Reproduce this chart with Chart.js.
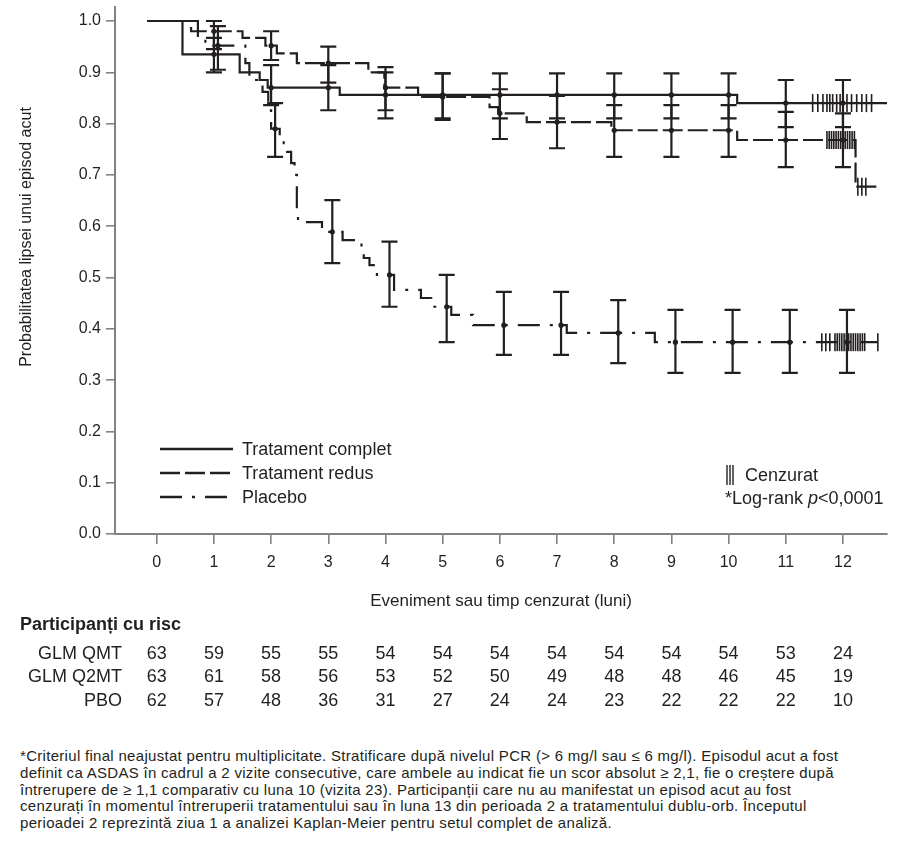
<!DOCTYPE html>
<html>
<head>
<meta charset="utf-8">
<script src="https://cdn.jsdelivr.net/npm/chart.js@4.4.1/dist/chart.umd.min.js"></script>
<style>
    body { margin: 0; background: #fff; font-family: "Liberation Sans", Arial, sans-serif; color: #231f20; }
    #zona { position: relative; width: 899px; height: 720px; }
    #nota { position: absolute; left: 20px; top: 748px; font-size: 15px; line-height: 16.8px; letter-spacing: 0.3px; white-space: nowrap; color: #231f20; }
</style>
</head>
<body>
<div id="zona"><canvas id="grafico_km" width="899" height="720"></canvas></div>
<div id="nota">
*Criteriul final neajustat pentru multiplicitate. Stratificare după nivelul PCR (&gt; 6 mg/l sau ≤ 6 mg/l). Episodul acut a fost<br>
definit ca ASDAS în cadrul a 2 vizite consecutive, care ambele au indicat fie un scor absolut ≥ 2,1, fie o creștere după<br>
întrerupere de ≥ 1,1 comparativ cu luna 10 (vizita 23). Participanții care nu au manifestat un episod acut au fost<br>
cenzurați în momentul întreruperii tratamentului sau în luna 13 din perioada 2 a tratamentului dublu-orb. Începutul<br>
perioadei 2 reprezintă ziua 1 a analizei Kaplan-Meier pentru setul complet de analiză.
</div>
<script>
// luni pe axa X, luni cu bare de eroare, diviziuni pe axa Y
const luni = [0,1,2,3,4,5,6,7,8,9,10,11,12]
const luniBare = [1,2,3,4,5,6,7,8,9,10,11,12]
const ticksY = [0.0,0.1,0.2,0.3,0.4,0.5,0.6,0.7,0.8,0.9,1.0]

// curbe Kaplan-Meier: momentul evenimentului (luni) si probabilitatea de dupa
const completT = [-0.17, 0.45, 1.45, 1.8, 1.94, 3.2, 10.15, 12.77]
const completP = [1.0, 0.935, 0.90, 0.885, 0.87, 0.856, 0.84, 0.84]

const redusT = [-0.17, 0.6, 1.5, 1.9, 2.1, 2.45, 3.7, 3.98, 4.57, 5.82, 5.97, 6.47, 7.95, 10.15, 12.22, 12.61]
const redusP = [1.0, 0.98, 0.967, 0.952, 0.937, 0.918, 0.90, 0.87, 0.852, 0.832, 0.82, 0.803, 0.787, 0.768, 0.677, 0.677]

const placeboT = [-0.17, 0.72, 0.85, 1.55, 1.62, 1.85, 1.95, 2.0, 2.15, 2.22, 2.28, 2.35, 2.41, 2.45, 2.47, 2.89, 3.25, 3.58, 3.62, 3.72, 3.85, 4.15, 4.62, 4.8, 5.15, 5.53, 7.17, 8.71, 12.61]
const placeboP = [1.0, 0.968, 0.952, 0.918, 0.885, 0.862, 0.826, 0.79, 0.768, 0.755, 0.745, 0.723, 0.70, 0.632, 0.608, 0.589, 0.573, 0.557, 0.538, 0.524, 0.505, 0.476, 0.46, 0.443, 0.427, 0.407, 0.392, 0.374, 0.374]

// bare de eroare (estimare, limita inferioara, limita superioara)
const completMed = [0.935, 0.87, 0.87, 0.856, 0.856, 0.856, 0.856, 0.856, 0.856, 0.856, 0.84, 0.84]
const completInf = [0.90, 0.836, 0.826, 0.81, 0.81, 0.81, 0.81, 0.81, 0.81, 0.81, 0.793, 0.793]
const completSup = [0.967, 0.914, 0.914, 0.90, 0.898, 0.898, 0.898, 0.898, 0.898, 0.898, 0.885, 0.885]

const redusMed = [0.98, 0.952, 0.918, 0.87, 0.852, 0.82, 0.803, 0.787, 0.787, 0.787, 0.768, 0.768]
const redusInf = [0.945, 0.924, 0.88, 0.826, 0.807, 0.77, 0.752, 0.735, 0.735, 0.735, 0.715, 0.715]
const redusSup = [1.0, 0.98, 0.95, 0.91, 0.898, 0.867, 0.854, 0.836, 0.836, 0.836, 0.823, 0.82]

const placeboMed = [0.952, 0.79, 0.589, 0.505, 0.443, 0.407, 0.407, 0.392, 0.374, 0.374, 0.374, 0.374]
const placeboInf = [0.905, 0.735, 0.528, 0.443, 0.374, 0.349, 0.349, 0.333, 0.314, 0.314, 0.314, 0.314]
const placeboSup = [0.99, 0.84, 0.651, 0.57, 0.505, 0.472, 0.472, 0.456, 0.437, 0.437, 0.437, 0.437]

// momente de cenzurare
const completCenz = [11.47, 11.56, 11.65, 11.72, 11.77, 11.82, 11.89, 11.95, 12.0, 12.07, 12.15, 12.24, 12.33, 12.41, 12.5]
const redusCenz = [11.72, 11.76, 11.8, 11.84, 11.88, 11.92, 11.96, 12.0, 12.04, 12.08, 12.12, 12.16, 12.2, 12.26, 12.33, 12.4]
const placeboCenz = [11.63, 11.7, 11.77, 11.86, 11.9, 11.94, 11.98, 12.02, 12.06, 12.1, 12.14, 12.18, 12.22, 12.26, 12.3, 12.34, 12.38, 12.61]

// participanti cu risc
const riscQMT = [63,59,55,55,54,54,54,54,54,54,54,53,24]
const riscQ2MT = [63,61,58,56,53,52,50,49,48,48,46,45,19]
const riscPBO = [62,57,48,36,31,27,24,24,23,22,22,22,10]

const negru = '#231f20'
const gri = '#808285'
const fontTxt = '"Liberation Sans", Arial, sans-serif'

function puncte(t, p) {
    return t.map((v, i) => ({ x: v, y: p[i] }))
}

// valoarea curbei in trepte la momentul t
function valoareLa(date, t) {
    let v = date[0].y
    for (const pt of date) {
        if (pt.x <= t) v = pt.y
    }
    return v
}

/*********************************************
*   PLUGIN: bare de eroare, cenzurare, legenda, tabel
**********************************************/
const extraKM = {
    id: 'extraKM',
    afterDatasetsDraw(chart) {
        const { ctx, scales: { x, y } } = chart
        chart.data.datasets.forEach(ds => {
            ctx.save()
            ctx.strokeStyle = negru
            ctx.fillStyle = negru
            ctx.lineWidth = 2.2
            luniBare.forEach((m, i) => {
                const px = x.getPixelForValue(m + ds.deplasare)
                const yl = y.getPixelForValue(ds.inf[i])
                const yh = y.getPixelForValue(ds.sup[i])
                const ym = y.getPixelForValue(ds.med[i])
                ctx.beginPath()
                ctx.moveTo(px, yl); ctx.lineTo(px, yh)
                ctx.moveTo(px - 8, yl); ctx.lineTo(px + 8, yl)
                ctx.moveTo(px - 8, yh); ctx.lineTo(px + 8, yh)
                ctx.stroke()
                ctx.beginPath()
                ctx.arc(px, ym, 2.6, 0, Math.PI * 2)
                ctx.fill()
            })
            // cenzurati
            ctx.lineWidth = 1.6
            ds.cenz.forEach(t => {
                const px = x.getPixelForValue(t)
                const py = y.getPixelForValue(valoareLa(ds.data, t))
                ctx.beginPath()
                ctx.moveTo(px, py - 9); ctx.lineTo(px, py + 9)
                ctx.stroke()
            })
            ctx.restore()
        })
    },
    afterDraw(chart) {
        const { ctx, chartArea, scales: { x } } = chart
        ctx.save()
        ctx.fillStyle = negru
        ctx.strokeStyle = negru

        // legenda
        const lx = chartArea.left + 45
        const ly = [449, 473, 497]
        ctx.font = '18px ' + fontTxt
        ctx.textBaseline = 'middle'
        ctx.textAlign = 'left'
        chart.data.datasets.forEach((ds, i) => {
            ctx.lineWidth = 2.4
            ctx.setLineDash(ds.borderDash)
            ctx.beginPath()
            ctx.moveTo(lx, ly[i]); ctx.lineTo(lx + 73, ly[i])
            ctx.stroke()
            ctx.setLineDash([])
            ctx.fillText(ds.label, lx + 82, ly[i] + 1)
        })

        // cenzurat + log-rank
        ctx.lineWidth = 1.4
        for (let k = 0; k < 3; k++) {
            ctx.beginPath()
            ctx.moveTo(727 + k * 3, 465); ctx.lineTo(727 + k * 3, 485)
            ctx.stroke()
        }
        ctx.fillText('Cenzurat', 745, 476)
        ctx.fillText('*Log-rank ', 725, 499)
        let w = ctx.measureText('*Log-rank ').width
        ctx.font = 'italic 18px ' + fontTxt
        ctx.fillText('p', 725 + w, 499)
        w += ctx.measureText('p').width
        ctx.font = '18px ' + fontTxt
        ctx.fillText('<0,0001', 725 + w, 499)

        // titlu axa Y
        ctx.save()
        ctx.translate(27, 237)
        ctx.rotate(-Math.PI / 2)
        ctx.textAlign = 'center'
        ctx.font = '16px ' + fontTxt
        ctx.fillText('Probabilitatea lipsei unui episod acut', 0, 0)
        ctx.restore()

        // tabel participanti cu risc
        ctx.font = 'bold 18px ' + fontTxt
        ctx.textAlign = 'left'
        ctx.fillText('Participanți cu risc', 20, 625)
        const randuri = [['GLM QMT', riscQMT], ['GLM Q2MT', riscQ2MT], ['PBO', riscPBO]]
        const ry = [654, 677, 701]
        ctx.font = '18px ' + fontTxt
        randuri.forEach((r, i) => {
            ctx.textAlign = 'right'
            ctx.fillText(r[0], 122, ry[i])
            ctx.textAlign = 'center'
            luni.forEach((m, j) => {
                ctx.fillText(String(r[1][j]), x.getPixelForValue(m), ry[i])
            })
        })
        ctx.restore()
    }
}

function graficoKM(id) {
    const seturi = [
        { label: 'Tratament complet', data: puncte(completT, completP), borderDash: [],
          med: completMed, inf: completInf, sup: completSup, cenz: completCenz, deplasare: 0 },
        { label: 'Tratament redus', data: puncte(redusT, redusP), borderDash: [20, 5],
          med: redusMed, inf: redusInf, sup: redusSup, cenz: redusCenz, deplasare: 0 },
        { label: 'Placebo', data: puncte(placeboT, placeboP), borderDash: [22, 10, 3, 10],
          med: placeboMed, inf: placeboInf, sup: placeboSup, cenz: placeboCenz, deplasare: 0.07 }
    ].map(s => Object.assign(s, {
        stepped: true,
        borderColor: negru,
        borderWidth: 2.2,
        pointRadius: 0,
        fill: false
    }))

    const options = {
        responsive: false,
        animation: false,
        layout: { padding: { left: 0, top: 7, right: 12, bottom: 0 } },
        plugins: {
            legend: { display: false },
            tooltip: { enabled: false }
        },
        scales: {
            x: {
                type: 'linear',
                min: -0.73,
                max: 12.77,
                afterBuildTicks: s => { s.ticks = luni.map(v => ({ value: v })) },
                afterFit: s => { s.height = 186; s.paddingLeft = 0; s.paddingRight = 0 },
                ticks: { color: negru, font: { family: fontTxt, size: 16 }, padding: 9,
                         callback: v => String(v) },
                grid: { drawOnChartArea: false, drawTicks: true, tickLength: 10, color: gri, lineWidth: 1.6 },
                border: { display: true, color: gri, width: 2 },
                title: { display: true, text: 'Eveniment sau timp cenzurat (luni)', color: negru,
                         font: { family: fontTxt, size: 17 }, padding: { top: 0, bottom: 108 } }
            },
            y: {
                min: 0,
                max: 1.0273,
                afterBuildTicks: s => { s.ticks = ticksY.map(v => ({ value: v })) },
                afterFit: s => { s.width = 115; s.paddingTop = 0; s.paddingBottom = 0 },
                ticks: { color: negru, font: { family: fontTxt, size: 16 }, padding: 5,
                         callback: v => v.toFixed(1) },
                grid: { drawOnChartArea: false, drawTicks: true, tickLength: 9, color: gri, lineWidth: 1.6 },
                border: { display: true, color: gri, width: 2 }
            }
        }
    }

    const ctx = document.getElementById(id).getContext('2d')
    return new Chart(ctx, { type: 'line', data: { datasets: seturi }, options, plugins: [extraKM] })
}

graficoKM('grafico_km')
</script>
</body>
</html>
